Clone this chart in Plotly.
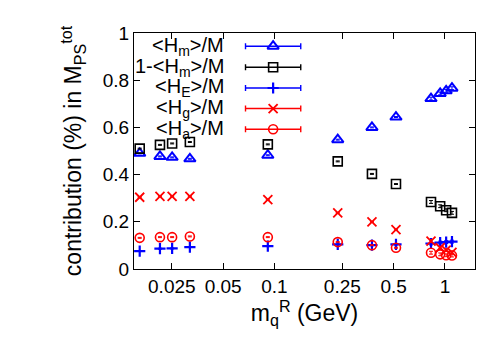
import plotly.graph_objects as go

# quark mass m_q^R (GeV)
mq = [0.0162, 0.0213, 0.0251, 0.0319, 0.0914, 0.235, 0.373, 0.516, 0.828, 0.937, 1.016, 1.099]

# contributions to M_PS^tot
hm = [0.490, 0.477, 0.473, 0.467, 0.482, 0.548, 0.600, 0.644, 0.722, 0.744, 0.755, 0.766]
one_minus_hm = [0.510, 0.526, 0.532, 0.538, 0.528, 0.456, 0.403, 0.360, 0.284, 0.266, 0.249, 0.238]
he = [0.076, 0.086, 0.087, 0.093, 0.097, 0.104, 0.101, 0.104, 0.108, 0.112, 0.114, 0.116]
hg = [0.304, 0.308, 0.308, 0.308, 0.294, 0.238, 0.200, 0.167, 0.118, 0.090, 0.080, 0.070]
ha = [0.132, 0.135, 0.135, 0.138, 0.135, 0.114, 0.101, 0.090, 0.069, 0.062, 0.058, 0.057]
err = [0.002, 0.002, 0.002, 0.002, 0.002, 0.002, 0.002, 0.002, 0.006, 0.006, 0.006, 0.006]

labels = ["&lt;H<sub>m</sub>&gt;/M", "1-&lt;H<sub>m</sub>&gt;/M", "&lt;H<sub>E</sub>&gt;/M",
          "&lt;H<sub>g</sub>&gt;/M", "&lt;H<sub>a</sub>&gt;/M"]

xticks = [0.025, 0.05, 0.1, 0.25, 0.5, 1]
xticklabels = ["0.025", "0.05", "0.1", "0.25", "0.5", "1"]

BLUE = "#0000ff"
RED = "#ff0000"
FONT = "Liberation Sans, Arial, sans-serif"

# (values, colour, symbol, size, line width)
series = [
    (hm, BLUE, "triangle-up-open", 10, 2),
    (one_minus_hm, "black", "square-open", 9, 1.6),
    (he, BLUE, "cross-thin-open", 8, 2.2),
    (hg, RED, "x-thin-open", 9, 1.8),
    (ha, RED, "circle-open", 9, 1.6),
]

fig = go.Figure()

for vals, color, sym, size, lw in series:
    fig.add_trace(go.Scatter(
        x=mq, y=vals, mode="markers", showlegend=False, cliponaxis=False,
        marker=dict(symbol=sym, size=size, color=color, line=dict(width=lw, color=color)),
        error_y=dict(type="data", array=err, width=2, thickness=1, color=color),
    ))

# gnuplot-style key: text on the left, sample on the right
key_y = [0.944, 0.855, 0.767, 0.680, 0.592]
for (vals, color, sym, size, lw), lab, ky in zip(series, labels, key_y):
    fig.add_trace(go.Scatter(
        x=[0.408], y=[ky], xaxis="x2", yaxis="y2", mode="markers", showlegend=False,
        marker=dict(symbol=sym, size=size, color=color, line=dict(width=lw, color=color)),
        error_x=dict(type="constant", value=0.081, width=3, thickness=1.4, color=color),
    ))
    fig.add_annotation(x=0.270, y=ky, xref="paper", yref="paper", text=lab,
                       showarrow=False, xanchor="right", yanchor="middle",
                       font=dict(size=20, color="black", family=FONT))

fig.update_layout(
    width=498, height=349,
    margin=dict(l=126, r=31, t=25, b=88),
    plot_bgcolor="white", paper_bgcolor="white",
    font=dict(family=FONT, size=19, color="black"),
    xaxis=dict(
        type="log", range=[-1.8239, 0.1761],
        tickvals=xticks, ticktext=xticklabels,
        ticks="inside", ticklen=6, tickcolor="black",
        showline=True, linecolor="black", linewidth=1, mirror="allticks",
        showgrid=False, zeroline=False,
        title=dict(text="m<sub>q</sub><sup>R</sup> (GeV)", standoff=8),
    ),
    yaxis=dict(
        range=[0, 1], tickvals=[0, 0.2, 0.4, 0.6, 0.8, 1],
        ticktext=["0", "0.2", "0.4", "0.6", "0.8", "1"],
        ticks="inside", ticklen=6, tickcolor="black",
        showline=True, linecolor="black", linewidth=1, mirror="allticks",
        showgrid=False, zeroline=False,
        title=dict(text="contribution (%) in M<sub>PS</sub><sup>tot</sup>", standoff=14),
    ),
    xaxis2=dict(overlaying="x", range=[0, 1], visible=False),
    yaxis2=dict(overlaying="y", range=[0, 1], visible=False),
)

fig.write_html("out.html")
